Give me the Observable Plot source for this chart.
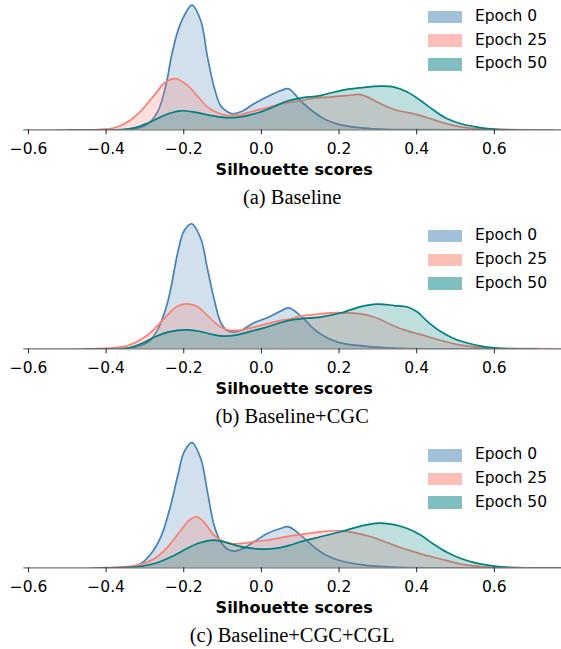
<!DOCTYPE html>
<html><head><meta charset="utf-8">
<script src="https://cdn.jsdelivr.net/npm/d3@7"></script>
<script src="https://cdn.jsdelivr.net/npm/@observablehq/plot@0.6"></script>
<style>
body{margin:0;background:#fff;}
#chart{width:561px;}
.panel{position:relative;width:561px;height:219.2px;}
.panel svg{display:block;}
.caption{position:absolute;left:23.3px;width:537.7px;text-align:center;font-family:"Liberation Serif","Times New Roman",serif;font-size:20.5px;line-height:20.5px;top:186.5px;color:#000;}
.legend{position:absolute;left:428.3px;top:10.7px;font-family:"DejaVu Sans",sans-serif;font-size:15.5px;color:#000;}
.legend .row{position:absolute;left:0;height:12.6px;white-space:nowrap;}
.legend .sw{position:absolute;left:0;top:0;width:33.4px;height:12.6px;}
.legend .lab{position:absolute;left:46.7px;top:6.3px;transform:translateY(-50%);line-height:1;}
</style></head><body><div id="chart"></div>
<script>
const epochs = ["Epoch 0", "Epoch 25", "Epoch 50"];
const captions = ["(a) Baseline", "(b) Baseline+CGC", "(c) Baseline+CGC+CGL"];
const xTicks = [-0.6, -0.4, -0.2, 0.0, 0.2, 0.4, 0.6];
const xLabel = "Silhouette scores";

// Panel (a) Baseline
const a_x0 = [-0.5, -0.335, -0.318, -0.292, -0.266, -0.244, -0.232, -0.215, -0.199, -0.179, -0.156, -0.139, -0.122, -0.105, -0.088, -0.075, -0.053, -0.019, 0.015, 0.049, 0.07, 0.101, 0.135, 0.17, 0.204, 0.264, 0.32, 0.38, 0.65];
const a_d0 = [0, 0.02, 0.07, 0.24, 0.76, 1.92, 2.92, 3.96, 4.56, 4.99, 4.36, 2.92, 1.72, 0.96, 0.72, 0.64, 0.72, 1.04, 1.32, 1.56, 1.64, 1.16, 0.71, 0.37, 0.2, 0.07, 0.02, 0.004, 0];
const a_x25 = [-0.5, -0.42, -0.378, -0.344, -0.31, -0.275, -0.249, -0.221, -0.189, -0.163, -0.139, -0.113, -0.088, -0.053, -0.019, 0.015, 0.05, 0.101, 0.135, 0.178, 0.221, 0.256, 0.282, 0.316, 0.35, 0.393, 0.428, 0.462, 0.497, 0.531, 0.565, 0.6, 0.7];
const a_d25 = [0, 0.01, 0.08, 0.32, 0.76, 1.4, 1.88, 2.05, 1.76, 1.32, 0.92, 0.68, 0.57, 0.61, 0.75, 0.88, 1.04, 1.16, 1.27, 1.31, 1.37, 1.41, 1.24, 0.97, 0.77, 0.64, 0.48, 0.31, 0.17, 0.08, 0.03, 0.01, 0];
const a_x50 = [-0.53, -0.36, -0.327, -0.292, -0.257, -0.232, -0.208, -0.173, -0.139, -0.105, -0.07, -0.036, -0.002, 0.033, 0.067, 0.101, 0.152, 0.204, 0.256, 0.307, 0.342, 0.376, 0.41, 0.445, 0.479, 0.514, 0.548, 0.582, 0.617, 0.65, 0.755];
const a_d50 = [0, 0.01, 0.08, 0.27, 0.53, 0.68, 0.76, 0.71, 0.6, 0.51, 0.49, 0.57, 0.71, 0.93, 1.15, 1.27, 1.37, 1.57, 1.68, 1.75, 1.71, 1.51, 1.17, 0.77, 0.44, 0.24, 0.13, 0.05, 0.01, 0.002, 0];

// Panel (b) Baseline+CGC
const b_x0 = [-0.45, -0.335, -0.292, -0.266, -0.244, -0.232, -0.215, -0.199, -0.179, -0.156, -0.139, -0.122, -0.105, -0.088, -0.07, -0.053, -0.019, 0.015, 0.049, 0.07, 0.101, 0.135, 0.17, 0.204, 0.264, 0.324, 0.38, 0.6];
const b_d0 = [0, 0.04, 0.27, 0.8, 1.72, 2.52, 3.88, 4.72, 5.0, 4.4, 3.2, 2.0, 1.07, 0.73, 0.67, 0.73, 1.04, 1.24, 1.5, 1.64, 1.32, 0.8, 0.43, 0.24, 0.11, 0.04, 0.01, 0];
const b_x25 = [-0.487, -0.387, -0.344, -0.31, -0.275, -0.241, -0.215, -0.189, -0.163, -0.139, -0.113, -0.088, -0.053, -0.019, 0.015, 0.049, 0.075, 0.101, 0.135, 0.178, 0.221, 0.256, 0.29, 0.324, 0.359, 0.393, 0.428, 0.462, 0.497, 0.531, 0.565, 0.6, 0.65, 0.773];
const b_d25 = [0, 0.03, 0.13, 0.37, 0.8, 1.37, 1.71, 1.8, 1.67, 1.33, 0.96, 0.76, 0.75, 0.87, 1.0, 1.13, 1.2, 1.31, 1.37, 1.44, 1.44, 1.4, 1.27, 1.04, 0.8, 0.64, 0.49, 0.33, 0.2, 0.11, 0.05, 0.02, 0.008, 0];
const b_x50 = [-0.461, -0.344, -0.31, -0.275, -0.241, -0.189, -0.156, -0.122, -0.096, -0.062, -0.019, 0.015, 0.049, 0.075, 0.101, 0.152, 0.204, 0.256, 0.299, 0.342, 0.376, 0.402, 0.428, 0.462, 0.497, 0.531, 0.565, 0.6, 0.634, 0.706];
const b_d50 = [0, 0.03, 0.2, 0.47, 0.67, 0.76, 0.69, 0.56, 0.51, 0.56, 0.73, 0.87, 1.04, 1.15, 1.2, 1.27, 1.43, 1.69, 1.79, 1.73, 1.67, 1.47, 1.09, 0.69, 0.4, 0.23, 0.11, 0.04, 0.01, 0];

// Panel (c) Baseline+CGC+CGL
const c_x0 = [-0.42, -0.335, -0.31, -0.284, -0.257, -0.236, -0.215, -0.199, -0.179, -0.156, -0.139, -0.122, -0.105, -0.088, -0.07, -0.053, -0.019, 0.015, 0.049, 0.07, 0.101, 0.135, 0.17, 0.204, 0.264, 0.324, 0.38, 0.62];
const c_d0 = [0, 0.03, 0.17, 0.57, 1.31, 2.36, 3.71, 4.64, 5.01, 4.36, 3.04, 1.71, 1.04, 0.75, 0.67, 0.73, 1.04, 1.37, 1.57, 1.64, 1.31, 0.84, 0.48, 0.28, 0.11, 0.04, 0.01, 0];
const c_x25 = [-0.445, -0.361, -0.318, -0.275, -0.241, -0.207, -0.185, -0.166, -0.147, -0.126, -0.105, -0.079, -0.053, -0.019, 0.015, 0.049, 0.075, 0.101, 0.152, 0.204, 0.238, 0.282, 0.324, 0.359, 0.393, 0.428, 0.462, 0.497, 0.531, 0.565, 0.6, 0.65, 0.773];
const c_d25 = [0, 0.03, 0.11, 0.37, 0.84, 1.51, 1.91, 2.04, 1.81, 1.37, 1.11, 0.97, 0.97, 1.04, 1.11, 1.2, 1.28, 1.33, 1.44, 1.48, 1.41, 1.24, 1.01, 0.8, 0.64, 0.48, 0.35, 0.21, 0.11, 0.05, 0.02, 0.004, 0];
const c_x50 = [-0.43, -0.361, -0.318, -0.275, -0.232, -0.199, -0.164, -0.139, -0.122, -0.096, -0.062, -0.019, 0.015, 0.049, 0.075, 0.101, 0.152, 0.204, 0.256, 0.303, 0.342, 0.376, 0.41, 0.445, 0.479, 0.514, 0.548, 0.582, 0.617, 0.651, 0.7, 0.773];
const c_d50 = [0, 0.01, 0.04, 0.17, 0.44, 0.71, 0.97, 1.08, 1.11, 1.04, 0.88, 0.77, 0.75, 0.81, 0.91, 1.04, 1.24, 1.44, 1.67, 1.79, 1.73, 1.57, 1.31, 0.93, 0.61, 0.37, 0.21, 0.11, 0.04, 0.01, 0.002, 0];

const colors = ["#4682b4", "#fa8072", "#008080"];

const panels = [
  [[a_x0, a_d0], [a_x25, a_d25], [a_x50, a_d50]],
  [[b_x0, b_d0], [b_x25, b_d25], [b_x50, b_d50]],
  [[c_x0, c_d0], [c_x25, c_d25], [c_x50, c_d50]]
];

const root = document.getElementById("chart");
panels.forEach((series, pi) => {
  const marks = [];
  series.forEach(([xs, ds], si) => {
    const data = xs.map((x, i) => ({x, d: ds[i], epoch: epochs[si]}));
    marks.push(Plot.areaY(data, {x: "x", y: "d", fill: colors[si], fillOpacity: 0.25, curve: "catmull-rom", clip: true}));
    marks.push(Plot.lineY(data, {x: "x", y: "d", stroke: colors[si], strokeWidth: 1.7, curve: "catmull-rom", clip: true}));
  });
  marks.push(Plot.ruleY([0], {stroke: "black", strokeOpacity: 0.55, strokeWidth: 1.3}));
  marks.push(Plot.axisX({ticks: xTicks, tickSize: 5, tickPadding: 8.5, tickFormat: d3.format(".1f"), label: null, fontSize: 15.5, stroke: "#222", fill: "black"}));
  marks.push(Plot.text([xLabel], {text: d => d, frameAnchor: "bottom", dy: 45.5, dx: 1.5, lineAnchor: "bottom", fontWeight: "bold", fontSize: 16, fill: "black"}));
  const svg = Plot.plot({
    width: 561, height: 190,
    marginLeft: 23.3, marginRight: 0, marginTop: 0, marginBottom: 60.7,
    x: {domain: [-0.612, 0.773]},
    y: {domain: [0, 5.172], axis: null},
    style: {fontFamily: "DejaVu Sans", fontSize: "15px", background: "white", color: "black", overflow: "visible"},
    marks
  });
  const panel = document.createElement("div");
  panel.className = "panel";
  panel.appendChild(svg);
  const legend = document.createElement("div");
  legend.className = "legend";
  epochs.forEach((e, i) => {
    const row = document.createElement("div");
    row.className = "row";
    row.style.top = (i * 23.7) + "px";
    const sw = document.createElement("div");
    sw.className = "sw";
    sw.style.background = colors[i];
    sw.style.opacity = 0.5;
    const lab = document.createElement("div");
    lab.className = "lab";
    lab.textContent = e;
    row.appendChild(sw); row.appendChild(lab);
    legend.appendChild(row);
  });
  panel.appendChild(legend);
  const cap = document.createElement("div");
  cap.className = "caption";
  cap.textContent = captions[pi];
  panel.appendChild(cap);
  root.appendChild(panel);
});
</script>
</body></html>
